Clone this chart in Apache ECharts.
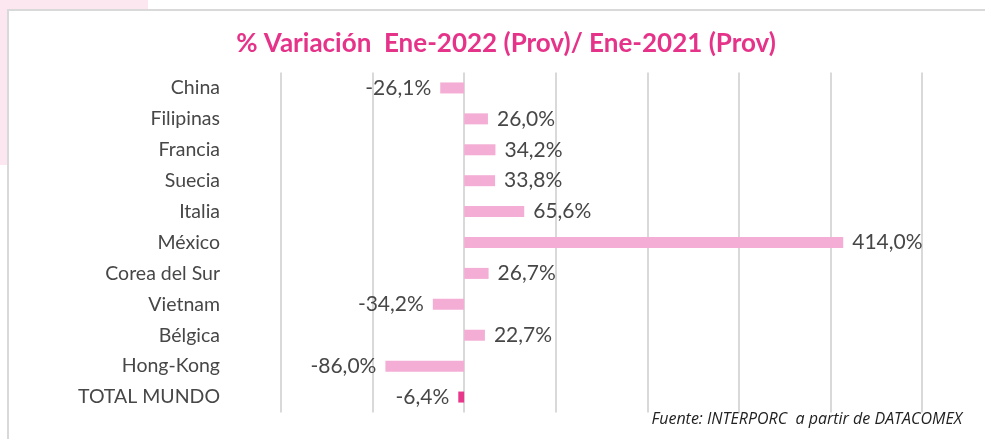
<!DOCTYPE html>
<html>
<head>
<meta charset="utf-8">
<script src="https://cdn.jsdelivr.net/npm/echarts@6/dist/echarts.min.js"></script>
<style>
  html, body { margin: 0; padding: 0; background: #ffffff; }
  #chart { width: 985px; height: 439px; }
</style>
</head>
<body>
<div id="chart"></div>
<script>
// Countries, top to bottom
const categories = ['China', 'Filipinas', 'Francia', 'Suecia', 'Italia', 'México',
  'Corea del Sur', 'Vietnam', 'Bélgica', 'Hong-Kong', 'TOTAL MUNDO'];
// % variation Jan-2022 vs Jan-2021
const variation = [-26.1, 26.0, 34.2, 33.8, 65.6, 414.0, 26.7, -34.2, 22.7, -86.0, -6.4];
const totalLabel = 'TOTAL MUNDO';

const fmt = v => v.toFixed(1).replace('.', ',') + '%';
const font = 'Lato, "Open Sans", sans-serif';
const noteFont = '"Open Sans", Lato, sans-serif';

const barData = categories.map((c, i) => {
  const v = variation[i];
  return {
    value: v,
    itemStyle: { color: c === totalLabel ? '#E8388C' : '#F4AED5' },
    label: { position: v < 0 ? 'left' : 'right' }
  };
});

const chart = echarts.init(document.getElementById('chart'));
chart.setOption({
  backgroundColor: '#ffffff',
  animation: false,
  graphic: [
    { type: 'rect', z: -10, shape: { x: 0, y: 0, width: 148, height: 165 },
      style: { fill: '#FCE6EF' } },
    { type: 'rect', z: -9, shape: { x: 8, y: 10, width: 990, height: 440 },
      style: { fill: '#ffffff', stroke: '#D9D9D9', lineWidth: 2 } },
    { type: 'text', right: 23, top: 411,
      style: { text: 'Fuente: INTERPORC  a partir de DATACOMEX', fill: '#222222',
        font: 'italic 16px ' + noteFont } }
  ],
  title: {
    text: '% Variación  Ene-2022 (Prov)/ Ene-2021 (Prov)',
    left: 501, top: 26, textAlign: 'center',
    textStyle: { color: '#E6338A', fontSize: 26, fontWeight: 'bold', fontFamily: font }
  },
  grid: { left: 281, right: 63, top: 72.5, bottom: 26.5, containLabel: false },
  xAxis: {
    type: 'value', min: -200, max: 500, interval: 100,
    axisLabel: { show: false }, axisLine: { show: false }, axisTick: { show: false },
    splitLine: { show: true, lineStyle: { color: '#D9D9D9', width: 2 } }
  },
  yAxis: {
    type: 'category', data: categories, inverse: true,
    axisLine: { show: false }, axisTick: { show: false },
    axisLabel: { margin: 61, color: '#474747', fontSize: 19.5, fontFamily: font }
  },
  series: [{
    type: 'bar', data: barData, barWidth: 11,
    label: { show: true, distance: 9, color: '#474747', fontSize: 21, fontFamily: font,
      formatter: p => fmt(p.value) }
  }]
});
</script>
</body>
</html>
